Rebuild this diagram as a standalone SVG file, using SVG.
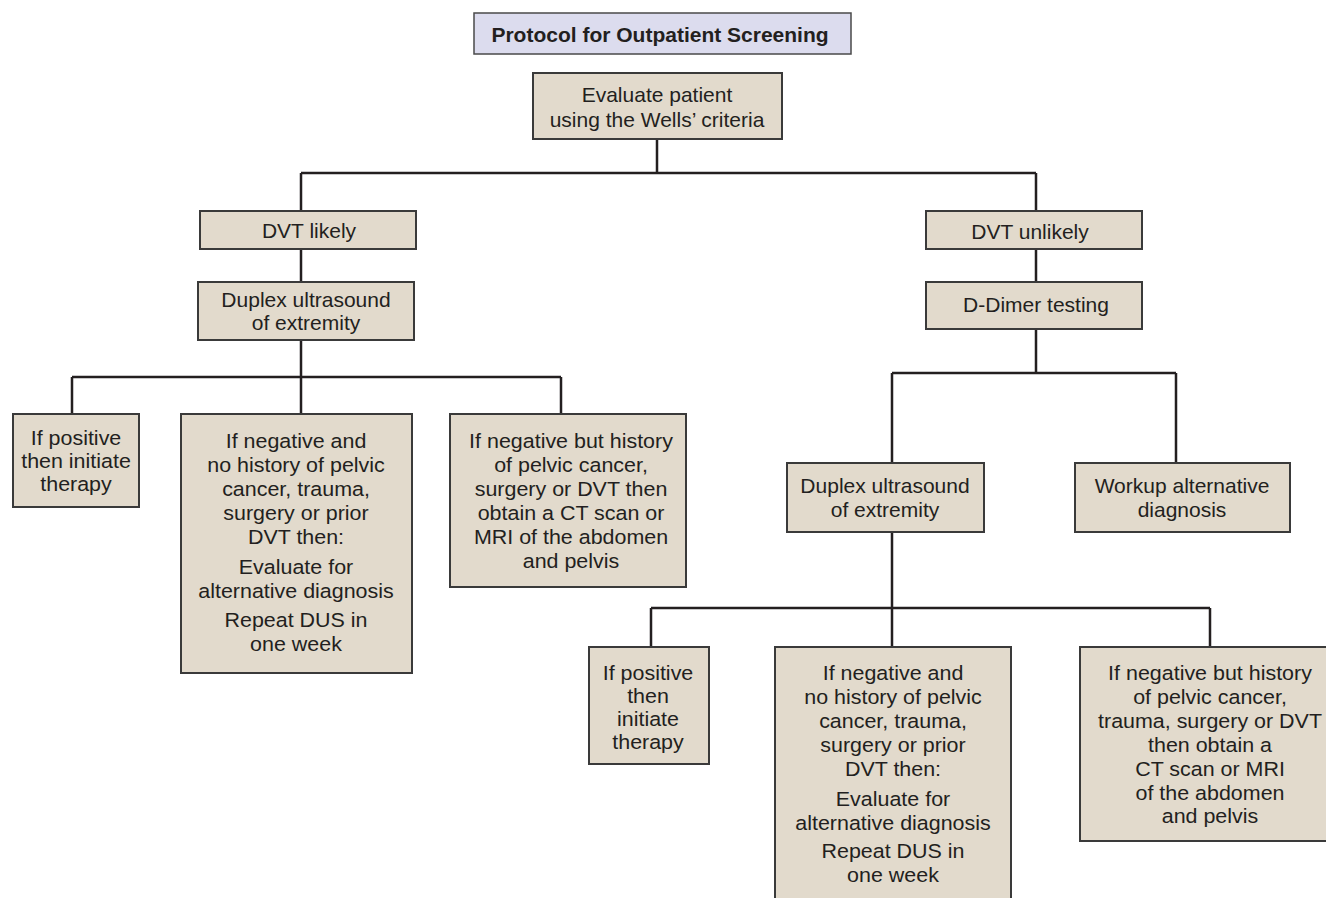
<svg xmlns="http://www.w3.org/2000/svg" width="1326" height="898" viewBox="0 0 1326 898">
  <style>
    .box { fill: #e2dacc; stroke: #3a3a3a; stroke-width: 2; }
    .title { fill: #dcdcee; stroke: #4a4a4a; stroke-width: 1.5; }
    .t { font-family: "Liberation Sans", Arial, sans-serif; font-size: 21px; fill: #231f20; text-anchor: middle; }
    .n { font-family: "Liberation Sans", Arial, sans-serif; font-size: 19.5px; fill: #231f20; text-anchor: middle; }
    .b { font-family: "Liberation Sans", Arial, sans-serif; font-size: 21px; font-weight: bold; fill: #231f20; text-anchor: middle; }
    .link { fill: none; stroke: #231f20; stroke-width: 2.5; }
  </style>
  <rect width="1326" height="898" fill="#ffffff"/>

  <g id="connectors">
    <path class="link" d="M657,139 V173 M301,173 H1036 M301,173 V211 M1036,173 V211"/>
    <path class="link" d="M301,249 V282 M301,340 V377 M72,377 H561 M72,377 V414 M301,377 V414 M561,377 V414"/>
    <path class="link" d="M1036,249 V282 M1036,329 V373 M892,373 H1176 M892,373 V463 M1176,373 V463"/>
    <path class="link" d="M892,532 V608 M651,608 H1210 M651,608 V647 M892,608 V647 M1210,608 V647"/>
  </g>

  <g id="title">
    <rect class="title" x="474" y="13" width="377" height="41"/>
    <text class="b" x="660" y="42">Protocol for Outpatient Screening</text>
  </g>

  <g id="evaluate">
    <rect class="box" x="533" y="73" width="249" height="66"/>
    <text class="t" x="657" y="102">Evaluate patient</text>
    <text class="t" x="657" y="127">using the Wells’ criteria</text>
  </g>

  <g id="dvt-likely">
    <rect class="box" x="200" y="211" width="216" height="38"/>
    <text class="t" x="309" y="238">DVT likely</text>
  </g>

  <g id="duplex-left">
    <rect class="box" x="198" y="282" width="216" height="58"/>
    <text class="t" x="306" y="307">Duplex ultrasound</text>
    <text class="t" x="306" y="330">of extremity</text>
  </g>

  <g id="left-positive">
    <rect class="box" x="13" y="414" width="126" height="93"/>
    <g transform="translate(76 0) scale(1.1 1)">
      <text class="n" x="0" y="445">If positive</text>
      <text class="n" x="0" y="468">then initiate</text>
      <text class="n" x="0" y="491">therapy</text>
    </g>
  </g>

  <g id="left-negative">
    <rect class="box" x="181" y="414" width="231" height="259"/>
    <g transform="translate(296 0) scale(1.1 1)">
      <text class="n" x="0" y="448">If negative and</text>
      <text class="n" x="0" y="472">no history of pelvic</text>
      <text class="n" x="0" y="496">cancer, trauma,</text>
      <text class="n" x="0" y="520">surgery or prior</text>
      <text class="n" x="0" y="544">DVT then:</text>
      <text class="n" x="0" y="574">Evaluate for</text>
      <text class="n" x="0" y="598">alternative diagnosis</text>
      <text class="n" x="0" y="627">Repeat DUS in</text>
      <text class="n" x="0" y="651">one week</text>
    </g>
  </g>

  <g id="left-history">
    <rect class="box" x="450" y="414" width="236" height="173"/>
    <g transform="translate(571 0) scale(1.1 1)">
      <text class="n" x="0" y="448">If negative but history</text>
      <text class="n" x="0" y="472">of pelvic cancer,</text>
      <text class="n" x="0" y="496">surgery or DVT then</text>
      <text class="n" x="0" y="520">obtain a CT scan or</text>
      <text class="n" x="0" y="544">MRI of the abdomen</text>
      <text class="n" x="0" y="568">and pelvis</text>
    </g>
  </g>

  <g id="dvt-unlikely">
    <rect class="box" x="926" y="211" width="216" height="38"/>
    <text class="t" x="1030" y="239">DVT unlikely</text>
  </g>

  <g id="d-dimer">
    <rect class="box" x="926" y="282" width="216" height="47"/>
    <text class="t" x="1036" y="312">D-Dimer testing</text>
  </g>

  <g id="duplex-right">
    <rect class="box" x="787" y="463" width="197" height="69"/>
    <text class="t" x="885" y="493">Duplex ultrasound</text>
    <text class="t" x="885" y="517">of extremity</text>
  </g>

  <g id="workup">
    <rect class="box" x="1075" y="463" width="215" height="69"/>
    <text class="t" x="1182" y="493">Workup alternative</text>
    <text class="t" x="1182" y="517">diagnosis</text>
  </g>

  <g id="right-positive">
    <rect class="box" x="589" y="647" width="120" height="117"/>
    <g transform="translate(648 0) scale(1.1 1)">
      <text class="n" x="0" y="680">If positive</text>
      <text class="n" x="0" y="703">then</text>
      <text class="n" x="0" y="726">initiate</text>
      <text class="n" x="0" y="749">therapy</text>
    </g>
  </g>

  <g id="right-negative">
    <rect class="box" x="775" y="647" width="236" height="265"/>
    <g transform="translate(893 0) scale(1.1 1)">
      <text class="n" x="0" y="680">If negative and</text>
      <text class="n" x="0" y="704">no history of pelvic</text>
      <text class="n" x="0" y="728">cancer, trauma,</text>
      <text class="n" x="0" y="752">surgery or prior</text>
      <text class="n" x="0" y="776">DVT then:</text>
      <text class="n" x="0" y="806">Evaluate for</text>
      <text class="n" x="0" y="830">alternative diagnosis</text>
      <text class="n" x="0" y="858">Repeat DUS in</text>
      <text class="n" x="0" y="882">one week</text>
    </g>
  </g>

  <g id="right-history">
    <rect class="box" x="1080" y="647" width="262" height="194"/>
    <g transform="translate(1210 0) scale(1.1 1)">
      <text class="n" x="0" y="680">If negative but history</text>
      <text class="n" x="0" y="704">of pelvic cancer,</text>
      <text class="n" x="0" y="728">trauma, surgery or DVT</text>
      <text class="n" x="0" y="752">then obtain a</text>
      <text class="n" x="0" y="776">CT scan or MRI</text>
      <text class="n" x="0" y="800">of the abdomen</text>
      <text class="n" x="0" y="823">and pelvis</text>
    </g>
  </g>
</svg>
